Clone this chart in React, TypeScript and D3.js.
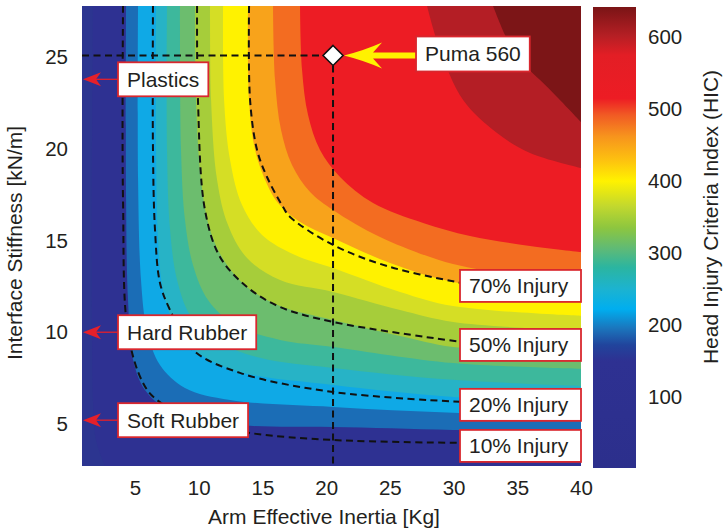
import React from 'react';
import * as d3 from 'd3';

// plot box (pixels)
const W = 725, H = 532;
const plot = { left: 82, right: 581, top: 6, bottom: 466 };
const bar = { left: 593, width: 43, top: 7, bottom: 468 };
const FONT = '"Liberation Sans", Arial, sans-serif';
const INK = '#231f20';
const LABEL_RED = '#d9272e';

// axes
const inertiaRange = [0.84, 40];      // Arm Effective Inertia [Kg]
const stiffnessRange = [2.7, 27.8];   // Interface Stiffness [kN/m]
const hicRange = [1, 642];
const inertiaTicks = [5, 10, 15, 20, 25, 30, 35, 40];
const stiffnessTicks = [5, 10, 15, 20, 25];
const hicTicks = [100, 200, 300, 400, 500, 600];

// colour map of the HIC colour bar
const cmapStops = [1, 150, 172, 195, 222, 250, 280, 305, 335, 365, 400, 430, 462, 492, 515, 575, 602, 642];
const cmapColors = ['#2c2f8c', '#2e3192', '#21449c', '#1b75bc', '#00aeef', '#1cb3d0', '#2bb5a0', '#5dba78', '#8dc63f',
  '#c2d82e', '#fff200', '#fdc010', '#f7941d', '#f15a24', '#ed1c24', '#e31e25', '#b51f24', '#7a1416'];

// lower boundary of each filled HIC band, [inertia, stiffness]
const edgeNavy = [[1.70, 27.8], [1.70, 6.30], [1.94, 4.12], [2.65, 2.70]];
const edgeDarkBlue = [[4.30, 27.8], [4.30, 17.22], [4.45, 11.76], [4.85, 8.49], [5.78, 6.85], [7.35, 5.87], [10.10, 5.21], [14.03, 4.89], [20.54, 4.83], [29.96, 4.67], [40, 4.50]];
const edgeCyan = [[5.24, 27.8], [5.24, 18.31], [5.47, 12.85], [5.94, 10.12], [6.96, 8.21], [8.92, 6.96], [12.46, 6.30], [20.54, 5.92], [29.96, 5.60], [40, 5.38]];
const edgeLightCyan = [[6.65, 27.8], [6.65, 19.94], [6.81, 15.03], [7.20, 12.31], [8.14, 10.40], [9.87, 8.92], [13.24, 7.83], [20.54, 7.12], [29.96, 6.47], [40, 6.20]];
const edgeTeal = [[7.51, 27.8], [7.51, 19.94], [7.75, 15.58], [8.30, 12.85], [9.32, 10.94], [11.28, 9.58], [14.81, 8.60], [20.54, 8.05], [29.96, 7.40], [40, 7.07]];
const edgeGreen = [[8.53, 27.8], [8.61, 19.94], [8.92, 16.13], [9.55, 13.67], [10.73, 11.76], [12.85, 10.40], [16.38, 9.58], [20.54, 9.20], [29.96, 8.32], [40, 8.00]];
const edgeYellowGreen = [[9.71, 27.8], [9.79, 22.67], [10.18, 18.31], [10.89, 15.58], [12.06, 13.83], [13.79, 12.47], [16.38, 11.43], [20.54, 10.67], [25.80, 9.80], [29.96, 9.20], [40, 8.81]];
const edgePale = [[10.89, 27.8], [10.97, 22.67], [11.44, 18.31], [12.30, 15.85], [13.79, 14.05], [16.38, 12.85], [20.54, 12.20], [25.80, 11.21], [29.96, 10.56], [40, 10.07]];
const edgeYellow = [[11.91, 27.8], [11.99, 22.67], [12.46, 19.40], [13.40, 16.94], [14.97, 15.31], [17.56, 14.22], [20.54, 13.51], [25.80, 12.20], [29.96, 11.43], [40, 10.89]];
const edgeAmber = [[13.87, 27.8], [13.95, 22.67], [14.34, 20.22], [15.05, 18.58], [16.22, 17.05], [17.95, 16.02], [20.54, 15.14], [25.02, 13.78], [29.96, 12.74], [35.22, 12.31], [40, 12.03]];
const edgeOrange = [[15.83, 27.8], [15.99, 23.76], [16.46, 21.03], [17.32, 19.13], [18.74, 17.65], [20.54, 16.67], [24.23, 15.20], [29.96, 13.72], [35.22, 13.12], [40, 12.80]];
const edgeRed = [[17.95, 27.8], [18.11, 24.31], [18.58, 21.85], [19.52, 19.94], [21.09, 18.47], [23.68, 17.05], [27.61, 15.96], [31.29, 15.25], [36.00, 14.71], [40, 14.38]];
const edgeDarkRed = [[27.92, 27.8], [28.94, 25.40], [30.75, 22.67], [33.41, 20.87], [36.00, 19.78], [40, 18.96]];
const edgeMaroon = [[33.10, 27.8], [34.04, 26.22], [34.98, 25.02], [36.79, 23.76], [38.12, 22.84], [40, 21.47]];

const bandEdges = [edgeNavy, edgeDarkBlue, edgeCyan, edgeLightCyan, edgeTeal, edgeGreen, edgeYellowGreen,
  edgePale, edgeYellow, edgeAmber, edgeOrange, edgeRed, edgeDarkRed, edgeMaroon];
const baseColor = '#2c3590';
const bandColors = ['#2e3192', '#1b6db6', '#0fa9e6', '#27b3c6', '#3db89c', '#6cbd6e', '#a6cd3a',
  '#d5de25', '#fff200', '#f8a31b', '#f36c21', '#ed1c24', '#b41e25', '#7c1517'];

// injury probability iso-lines
const injury10 = [[4.06, 27.8], [4.06, 17.22], [4.45, 9.96], [5.63, 7.23], [6.73, 6.30], [10.10, 5.10], [14.03, 4.50], [20.54, 4.12], [30.6, 3.96]];
const injury20 = [[6.41, 27.8], [6.41, 19.94], [6.57, 15.58], [6.96, 12.69], [7.75, 11.21], [9.55, 9.03], [13.24, 7.78], [20.54, 6.74], [30.6, 6.20]];
const injury50 = [[9.87, 27.8], [9.94, 22.67], [10.49, 16.67], [11.67, 14.11], [13.79, 12.47], [16.38, 11.38], [20.54, 10.56], [30.6, 9.47]];
const injury70 = [[13.95, 27.8], [14.03, 22.67], [14.58, 19.94], [15.36, 18.47], [16.62, 16.83], [17.17, 16.29], [20.54, 14.76], [25.02, 13.56], [30.6, 12.69]];
const injuryLines = [injury10, injury20, injury50, injury70];
const injuryLabels = ['10% Injury', '20% Injury', '50% Injury', '70% Injury'];

// interface materials
const materialNames = ['Plastics', 'Hard Rubber', 'Soft Rubber'];
const materialStiffness = [23.8, 10, 5.2];

// Puma 560 operating point
const pumaName = 'Puma 560';
const pumaInertia = 20.54;
const pumaStiffness = 25.1;

const x = d3.scaleLinear().domain(inertiaRange).range([plot.left, plot.right]);
const y = d3.scaleLinear().domain(stiffnessRange).range([plot.bottom, plot.top]);
const c = d3.scaleLinear().domain(hicRange).range([bar.bottom, bar.top]);

const edgeLine = d3.line<number[]>()
  .x(d => x(d[0]))
  .y(d => y(d[1]))
  .curve(d3.curveCatmullRom.alpha(0.5));

function bandPath(pts: number[][]) {
  const last = pts[pts.length - 1];
  let d = edgeLine(pts) || '';
  if (last[0] < inertiaRange[1]) d += `L${x(inertiaRange[1])},${y(stiffnessRange[0])}`;
  d += `L${x(inertiaRange[1])},${y(stiffnessRange[1])}Z`;
  return d;
}

function textWidth(s: string, size: number) {
  const ctx = document.createElement('canvas').getContext('2d');
  if (!ctx) return s.length * size * 0.55;
  ctx.font = `${size}px "Liberation Sans"`;
  return ctx.measureText(s).width;
}

const LABEL_SIZE = 21;

function LabelBox({ x0, cy, w, h, text }: { x0: number, cy: number, w: number, h: number, text: string }) {
  return (
    <g>
      <rect x={x0} y={cy - h / 2} width={w} height={h} fill='#fff' stroke={LABEL_RED} strokeWidth={1.8} />
      <text x={x0 + 9} y={cy + 7.5} fontSize={LABEL_SIZE} fontFamily={FONT} fill={INK}>{text}</text>
    </g>
  );
}

const DASH = { stroke: '#111', strokeWidth: 2, strokeDasharray: '7,4.5' };

export default function App() {
  const xAxisRef = React.useRef<SVGGElement>(null);
  const yAxisRef = React.useRef<SVGGElement>(null);
  const cAxisRef = React.useRef<SVGGElement>(null);

  React.useEffect(() => {
    const style = (g: any) => {
      g.select('.domain').remove();
      g.selectAll('text').attr('font-size', 20.5).attr('font-family', FONT).attr('fill', INK);
    };
    d3.select(xAxisRef.current).call(d3.axisBottom(x).tickValues(inertiaTicks).tickSize(0).tickPadding(14) as any).call(style);
    d3.select(yAxisRef.current).call(d3.axisLeft(y).tickValues(stiffnessTicks).tickSize(0).tickPadding(14) as any).call(style);
    d3.select(cAxisRef.current).call(d3.axisRight(c).tickValues(hicTicks).tickSize(0).tickPadding(12) as any).call(style);
  }, []);

  const px = x(pumaInertia), py = y(pumaStiffness);
  const dia = 10;
  const arrowTip = px + dia + 1;
  const pumaBoxX = px + 83;

  return (
    <svg width={W} height={H} style={{ position: 'absolute', left: 0, top: 0, background: '#fff' }}>
      <defs>
        <clipPath id='plot-clip'>
          <rect x={plot.left} y={plot.top} width={plot.right - plot.left} height={plot.bottom - plot.top} />
        </clipPath>
        <linearGradient id='hic-grad' gradientUnits='userSpaceOnUse' x1={0} x2={0} y1={c(hicRange[0])} y2={c(hicRange[1])}>
          {cmapStops.map((v, i) => (
            <stop key={i} offset={(v - hicRange[0]) / (hicRange[1] - hicRange[0])} stopColor={cmapColors[i]} />
          ))}
        </linearGradient>
      </defs>

      {/* filled HIC bands */}
      <g clipPath='url(#plot-clip)'>
        <rect x={plot.left} y={plot.top} width={plot.right - plot.left} height={plot.bottom - plot.top} fill={baseColor} />
        {bandEdges.map((edge, i) => (
          <path key={i} d={bandPath(edge)} fill={bandColors[i]} />
        ))}

        {/* injury iso-lines */}
        {injuryLines.map((pts, i) => (
          <path key={i} d={edgeLine(pts) || ''} fill='none' {...DASH} />
        ))}

        {/* Puma crosshair */}
        <line x1={plot.left} x2={px - dia} y1={py} y2={py} {...DASH} />
        <line x1={px} x2={px} y1={py + dia} y2={plot.bottom} {...DASH} />
      </g>

      {/* Puma marker, arrow and label */}
      <path d={`M${px},${py - dia}L${px + dia},${py}L${px},${py + dia}L${px - dia},${py}Z`} fill='#fff' stroke='#111' strokeWidth={1.6} />
      <path d={`M${arrowTip},${py}Q${arrowTip + 20},${py - 5} ${arrowTip + 38},${py - 13}L${arrowTip + 29},${py - 3}L${pumaBoxX},${py - 3}L${pumaBoxX},${py + 3}L${arrowTip + 29},${py + 3}L${arrowTip + 38},${py + 13}Q${arrowTip + 20},${py + 5} ${arrowTip},${py}Z`}
        fill='#fff200' />
      <LabelBox x0={pumaBoxX} cy={py - 1.5} w={textWidth(pumaName, LABEL_SIZE) + 18} h={35} text={pumaName} />

      {/* material labels with red arrows */}
      {materialNames.map((name, i) => {
        const my = y(materialStiffness[i]);
        const bx = plot.left + 36;
        const tip = plot.left + 1;
        return (
          <g key={name}>
            <line x1={tip + 10} x2={bx} y1={my} y2={my} stroke='#e5202a' strokeWidth={1.3} />
            <path d={`M${tip},${my}L${tip + 18},${my - 7}L${tip + 13},${my}L${tip + 18},${my + 7}Z`} fill='#e5202a' />
            <LabelBox x0={bx} cy={my} w={textWidth(name, LABEL_SIZE) + 18} h={34} text={name} />
          </g>
        );
      })}

      {/* injury labels */}
      {injuryLines.map((pts, i) => {
        const ly = y(pts[pts.length - 1][1]) + 3;
        return <LabelBox key={i} x0={plot.right - 121} cy={ly} w={121} h={32} text={injuryLabels[i]} />;
      })}

      {/* axes */}
      <g ref={xAxisRef} transform={`translate(0,${plot.bottom})`} />
      <g ref={yAxisRef} transform={`translate(${plot.left},0)`} />
      <text x={324} y={524} textAnchor='middle' fontSize={21} fontFamily={FONT} fill={INK}>Arm Effective Inertia [Kg]</text>
      <text transform={`translate(22,${(plot.top + plot.bottom) / 2 + 7}) rotate(-90)`} textAnchor='middle' fontSize={21} fontFamily={FONT} fill={INK}>
        Interface Stiffness [kN/m]
      </text>

      {/* colour bar */}
      <rect x={bar.left} y={bar.top} width={bar.width} height={bar.bottom - bar.top} fill='url(#hic-grad)' />
      <g ref={cAxisRef} transform={`translate(${bar.left + bar.width},0)`} />
      <text transform={`translate(718,217) rotate(-90)`} textAnchor='middle' fontSize={21} fontFamily={FONT} fill={INK}>
        Head Injury Criteria Index (HIC)
      </text>
    </svg>
  );
}
